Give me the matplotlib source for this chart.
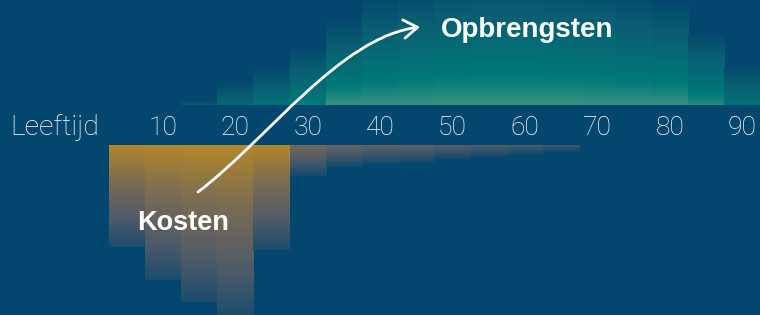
import numpy as np
import matplotlib
matplotlib.use("Agg")
import matplotlib.pyplot as plt
from matplotlib.colors import LinearSegmentedColormap
from matplotlib.patches import FancyArrowPatch
from matplotlib.path import Path
from matplotlib.transforms import blended_transform_factory

# leeftijdsklassen (midden van klasse van 5 jaar)
ages = [5, 10, 15, 20, 25, 30, 35, 40, 45, 50, 55, 60, 65, 70, 75, 80, 85, 90]
opbrengsten = [0, 0, 6, 22, 35, 55, 83, 105, 115, 125, 130, 130, 125, 120, 110, 100, 70, 38]
kosten = [102, 135, 157, 172, 105, 31, 22, 19, 18, 14, 12, 10, 7, 0, 0, 0, 0, 0]
tick_ages = [10, 20, 30, 40, 50, 60, 70, 80, 90]

bg = '#03466e'
teal = LinearSegmentedColormap.from_list(
    'teal', [(0, bg), (0.35, '#0a5e72'), (0.8, '#00797a'), (1.0, '#36937f')])
oranje = LinearSegmentedColormap.from_list(
    'oranje', [(0, bg), (0.35, '#4d5a6a'), (0.7, '#7d6d52'), (1.0, '#b2872a')])

W, H = 760, 315
fig = plt.figure(figsize=(W / 100, H / 100), dpi=100, facecolor=bg)
ax_top = fig.add_axes([0, (H - 105) / H, 1, 105 / H])
ax_bot = fig.add_axes([0, 0, 1, 170 / H])
xlim = (-12.5, 92.46)
for ax in (ax_top, ax_bot):
    ax.set_facecolor(bg)
    ax.axis('off')

breedte = 5.0
n = 256
for a, h in zip(ages, opbrengsten):
    if h <= 0:
        continue
    s = min(1.0, np.sqrt(h / 80))
    g = np.linspace(s, 0.08 * s, n).reshape(-1, 1)
    ax_top.imshow(g, cmap=teal, vmin=0, vmax=1, origin='lower', aspect='auto',
                  extent=[a - breedte / 2, a + breedte / 2, 0, h], interpolation='bilinear')
for a, d in zip(ages, kosten):
    if d <= 0:
        continue
    s = min(1.0, np.sqrt(d / 80))
    g = np.linspace(0.12 * s, s, n).reshape(-1, 1)
    ax_bot.imshow(g, cmap=oranje, vmin=0, vmax=1, origin='lower', aspect='auto',
                  extent=[a - breedte / 2, a + breedte / 2, -d, 0], interpolation='bilinear')
for ax in (ax_top, ax_bot):
    ax.set_xlim(*xlim)
ax_top.set_ylim(0, 105)
ax_bot.set_ylim(-170, 0)

# as-labels
tr = blended_transform_factory(ax_bot.transData, fig.transFigure)
for t in tick_ages:
    fig.text(t, 1 - 135 / H, str(t), transform=tr, ha='center', va='baseline',
             color='white', fontsize=19, family='Roboto', fontweight='light')
fig.text(10 / W, 1 - 135 / H, 'Leeftijd', ha='left', va='baseline',
         color='white', fontsize=20.5, family='Roboto', fontweight='light')

fig.text(441 / W, 1 - 37 / H, 'Opbrengsten', ha='left', va='baseline',
         color='white', fontsize=20, family='Liberation Sans', fontweight='bold')
fig.text(137 / W, 1 - 230 / H, 'Kosten', ha='left', va='baseline',
         color='white', fontsize=19.5, family='Liberation Sans', fontweight='bold')

# pijl
ov = fig.add_axes([0, 0, 1, 1])
ov.set_xlim(0, W)
ov.set_ylim(H, 0)
ov.axis('off')
ov.patch.set_alpha(0)
verts = [(198, 192), (268, 139), (340, 37), (420, 27)]
codes = [Path.MOVETO, Path.CURVE4, Path.CURVE4, Path.CURVE4]
pijl = FancyArrowPatch(path=Path(verts, codes),
                       arrowstyle='->,head_length=0.45,head_width=0.3',
                       mutation_scale=22, color='white', lw=2.0,
                       transform=ov.transData, capstyle='round')
ov.add_patch(pijl)

fig.savefig('out.png', dpi=100, facecolor=bg)
